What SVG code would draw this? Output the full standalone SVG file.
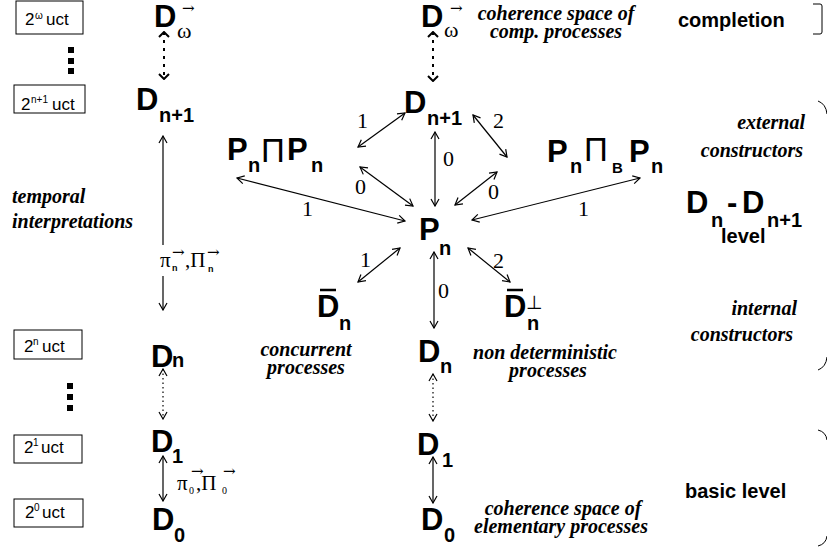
<svg xmlns="http://www.w3.org/2000/svg" width="827" height="550" viewBox="0 0 827 550">
<defs>
<style>
.D{font-family:"Liberation Sans",Arial,sans-serif;font-weight:bold;font-size:31px;fill:#000}
.s{font-family:"Liberation Sans",Arial,sans-serif;font-weight:bold;font-size:20px;fill:#000}
.it{font-family:"Liberation Serif","Times New Roman",serif;font-weight:bold;font-style:italic;font-size:20px;fill:#000}
.num{font-family:"Liberation Serif","Times New Roman",serif;font-size:22px;fill:#000}
.gr{font-family:"Liberation Serif","Times New Roman",serif;font-size:21px;fill:#000}
.ar{font-family:"DejaVu Serif","Liberation Serif",serif;font-size:15px;fill:#000}
.lbl{font-family:"Liberation Sans",Arial,sans-serif;font-weight:bold;font-size:20px;fill:#000}
.box{fill:#fff;stroke:#000;stroke-width:1}
.bt{font-family:"Liberation Sans",Arial,sans-serif;font-size:17px;fill:#000}
.sup{font-family:"Liberation Sans",Arial,sans-serif;font-size:10px;fill:#000}
.c{stroke:#000;stroke-width:1.2;fill:none;marker-start:url(#a);marker-end:url(#a)}
.ce{stroke:#000;stroke-width:1.2;fill:none}
.dt{stroke:#000;stroke-width:1.2;fill:none;stroke-dasharray:1.5 3;marker-start:url(#a);marker-end:url(#a)}
.db{stroke:#000;stroke-width:2;fill:none;stroke-dasharray:3 5;marker-start:url(#ab);marker-end:url(#ab)}
.br{stroke:#000;stroke-width:1;fill:none}
.cap{font-family:"Liberation Sans",Arial,sans-serif;font-size:33px;fill:#000}
</style>
<marker id="a" viewBox="-9 -6 10 12" refX="0" refY="0" markerWidth="10" markerHeight="12" markerUnits="userSpaceOnUse" orient="auto-start-reverse">
<path d="M-7,-4 L0,0 L-7,4" fill="none" stroke="#000" stroke-width="1.2" stroke-dasharray="none"/>
</marker>
<marker id="ab" viewBox="-9 -6 10 12" refX="0" refY="0" markerWidth="10" markerHeight="12" markerUnits="userSpaceOnUse" orient="auto-start-reverse">
<path d="M-5,-5 L0,0 L-5,5" fill="none" stroke="#000" stroke-width="2" stroke-dasharray="none"/>
</marker>
</defs>
<rect width="827" height="550" fill="#fff"/>

<g id="connectors">
<line class="db" x1="164" y1="32" x2="164" y2="79"/>
<line class="ce" x1="163" y1="136" x2="163" y2="245" marker-start="url(#a)"/>
<line class="ce" x1="163" y1="276" x2="163" y2="310" marker-end="url(#a)"/>
<line class="dt" x1="163" y1="369" x2="163" y2="419"/>
<line class="c" x1="163" y1="456" x2="163" y2="501"/>
<line class="db" x1="433" y1="32" x2="433" y2="81"/>
<line class="c" x1="358" y1="147" x2="405" y2="113"/>
<line class="c" x1="360" y1="167" x2="413" y2="206"/>
<line class="c" x1="237" y1="178" x2="405" y2="221"/>
<line class="c" x1="435" y1="132" x2="435" y2="206"/>
<line class="c" x1="455" y1="205" x2="497" y2="172"/>
<line class="c" x1="473" y1="115" x2="507" y2="157"/>
<line class="c" x1="472" y1="220" x2="640" y2="178"/>
<line class="c" x1="358" y1="282" x2="400" y2="248"/>
<line class="c" x1="468" y1="248" x2="510" y2="282"/>
<line class="c" x1="434" y1="252" x2="434" y2="328"/>
<line class="dt" x1="433" y1="374" x2="433" y2="421"/>
<line class="c" x1="433" y1="457" x2="433" y2="503"/>
<text class="num" x="357" y="128">1</text>
<text class="num" x="355" y="194">0</text>
<text class="num" x="302" y="216">1</text>
<text class="num" x="443" y="166">0</text>
<text class="num" x="488" y="199">0</text>
<text class="num" x="493" y="128">2</text>
<text class="num" x="578" y="216">1</text>
<text class="num" x="360" y="267">1</text>
<text class="num" x="493" y="268">2</text>
<text class="num" x="438" y="298">0</text>
<g id="pi-n">
<text class="gr" x="160" y="267">π</text>
<text class="sup" x="172" y="271" style="font-weight:bold;font-size:9px">n</text>
<text class="ar" x="172" y="257">→</text>
<text class="gr" x="185" y="267">,Π</text>
<text class="sup" x="208" y="272" style="font-weight:bold;font-size:9px">n</text>
<text class="ar" x="207" y="257">→</text>
</g>
<g id="pi-0">
<text class="gr" x="177" y="490">π</text>
<text class="gr" x="189" y="494" style="font-size:10px">0</text>
<text class="ar" x="191" y="476">→</text>
<text class="gr" x="196" y="490">,Π</text>
<text class="gr" x="222" y="494" style="font-size:10px">0</text>
<text class="ar" x="223" y="476">→</text>
</g>
</g>

<g id="box-omega"><rect class="box" x="16" y="1" width="67" height="33"/><text class="bt" x="25" y="25">2</text><text class="sup" x="35" y="19">ω</text><text class="bt" x="46" y="25">uct</text></g>
<g id="dots-top"><rect x="68" y="47" width="6" height="6"/><rect x="68" y="58" width="6" height="6"/><rect x="68" y="68" width="6" height="6"/></g>
<g id="box-n1"><rect class="box" x="14" y="85" width="71" height="28"/><text class="bt" x="21" y="110">2</text><text class="sup" x="31" y="103">n+1</text><text class="bt" x="52" y="110">uct</text></g>
<g id="box-n"><rect class="box" x="14" y="330" width="68" height="29"/><text class="bt" x="24" y="352">2</text><text class="sup" x="33" y="345">n</text><text class="bt" x="42" y="352">uct</text></g>
<g id="dots-bot"><rect x="67" y="383" width="6" height="6"/><rect x="67" y="394" width="6" height="6"/><rect x="67" y="405" width="6" height="6"/></g>
<g id="box-1"><rect class="box" x="14" y="435" width="68" height="28"/><text class="bt" x="24" y="453">2</text><text class="sup" x="33" y="446">1</text><text class="bt" x="41" y="453">uct</text></g>
<g id="box-0"><rect class="box" x="14" y="499" width="69" height="28"/><text class="bt" x="25" y="518">2</text><text class="sup" x="34" y="511">0</text><text class="bt" x="42" y="518">uct</text></g>

<g id="D-omega-left"><text class="D" x="154" y="27">D</text><text class="gr" x="177" y="38" style="font-size:22px">ω</text><text class="ar" x="182" y="13">→</text></g>
<g id="D-n1-left"><text class="D" x="136" y="110">D</text><text class="s" x="159" y="122">n+1</text></g>
<g id="D-n-left"><text class="D" x="151" y="367">D</text><text class="s" x="172" y="367">n</text></g>
<g id="D-1-left"><text class="D" x="151" y="452">D</text><text class="s" x="172" y="463">1</text></g>
<g id="D-0-left"><text class="D" x="152" y="530">D</text><text class="s" x="174" y="542">0</text></g>

<g id="D-omega-mid"><text class="D" x="421" y="27">D</text><text class="gr" x="444" y="37" style="font-size:22px">ω</text><text class="ar" x="450" y="13">→</text></g>
<g id="D-n1-mid"><text class="D" x="404" y="113">D</text><text class="s" x="427" y="125">n+1</text></g>
<g id="P-n"><text class="D" x="419" y="240">P</text><text class="s" x="439" y="255">n</text></g>
<g id="D-n-mid"><text class="D" x="418" y="362">D</text><text class="s" x="440" y="373">n</text></g>
<g id="D-1-mid"><text class="D" x="417" y="455">D</text><text class="s" x="442" y="467">1</text></g>
<g id="D-0-mid"><text class="D" x="421" y="530">D</text><text class="s" x="444" y="542">0</text></g>

<g id="Dbar-n"><line x1="320" y1="290" x2="336" y2="290" stroke="#000" stroke-width="2.5"/><text class="D" x="317" y="317">D</text><text class="s" x="339" y="330">n</text></g>
<g id="Dbar-n-perp"><line x1="507" y1="290" x2="523" y2="290" stroke="#000" stroke-width="2.5"/><text class="D" x="504" y="317">D</text><text class="s" x="527" y="330">n</text><text x="526" y="309" style="font-family:'DejaVu Sans',sans-serif;font-size:19px">⊥</text></g>

<g id="PcapP"><text class="D" x="227" y="160">P</text><text class="s" x="248" y="172">n</text><text class="cap" x="261" y="162">Π</text><text class="D" x="287" y="160">P</text><text class="s" x="311" y="172">n</text></g>
<g id="PcapBP"><text class="D" x="547" y="162">P</text><text class="s" x="570" y="173">n</text><text class="cap" x="584" y="161">Π</text><text class="s" x="612" y="173" style="font-size:15px">B</text><text class="D" x="629" y="162">P</text><text class="s" x="651" y="173">n</text></g>

<g id="level"><text class="D" x="686" y="213">D</text><text class="s" x="711" y="227">n</text><text class="D" x="727" y="213">-</text><text class="D" x="742" y="213">D</text><text class="s" x="767" y="227">n+1</text><text class="s" x="721" y="243">level</text></g>

<g id="labels">
<text class="it" x="556" y="20" text-anchor="middle">coherence space of</text>
<text class="it" x="556" y="38" text-anchor="middle">comp. processes</text>
<text class="it" x="545" y="359" text-anchor="middle">non deterministic</text>
<text class="it" x="548" y="377" text-anchor="middle">processes</text>
<text class="it" x="563" y="515" text-anchor="middle">coherence space  of</text>
<text class="it" x="561" y="533" text-anchor="middle">elementary processes</text>
<text class="it" x="306" y="356" text-anchor="middle">concurrent</text>
<text class="it" x="306" y="374" text-anchor="middle">processes</text>
<text class="it" x="12" y="203">temporal</text>
<text class="it" x="12" y="228">interpretations</text>
<text class="it" x="805" y="129" text-anchor="end">external</text>
<text class="it" x="803" y="157" text-anchor="end">constructors</text>
<text class="it" x="797" y="315" text-anchor="end">internal</text>
<text class="it" x="793" y="341" text-anchor="end">constructors</text>
<text class="lbl" x="678" y="27">completion</text>
<text class="lbl" x="685" y="498">basic level</text>
</g>

<g id="brackets">
<path class="br" d="M813,4 L820,4 Q822,4 822,6 L822,32 Q822,34 820,34 L813,34"/>
<path class="br" d="M818,101 Q826,104 827,114"/>
<path class="br" d="M818,370 Q826,367 827,357"/>
<path class="br" d="M818,430 Q826,432 827,440"/>
<path class="br" d="M818,546 Q826,544 827,536"/>
</g>
</svg>
